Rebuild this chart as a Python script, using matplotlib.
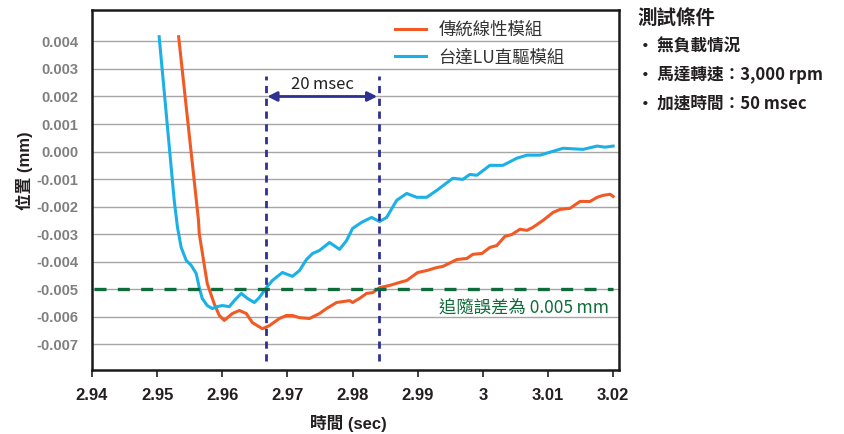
# Position vs time, conventional linear module vs Delta LU direct drive

import matplotlib
matplotlib.use("Agg")
import matplotlib.pyplot as plt

plt.rcParams['font.family'] = ['Liberation Sans', 'Noto Sans CJK TC']

# 傳統線性模組
t_lin = [2.9533, 2.95635, 2.95646, 2.95769, 2.95877, 2.95954, 2.96031, 2.96154,
         2.96262, 2.96369, 2.96462, 2.96615, 2.96723, 2.96877, 2.96985, 2.97077,
         2.97185, 2.97338, 2.97492, 2.976, 2.97754, 2.97954, 2.98, 2.98108,
         2.98215, 2.98308, 2.98415, 2.98569, 2.98723, 2.98831, 2.99, 2.99138,
         2.99292, 2.99385, 2.996, 2.99754, 2.99846, 2.99985, 3.00108, 3.00215,
         3.00338, 3.00446, 3.00569, 3.00677, 3.00769, 3.00923, 3.01077, 3.01185,
         3.01338, 3.01492, 3.01646, 3.01754, 3.01846, 3.01954, 3.02]
y_lin = [0.00417, -0.0025, -0.00297, -0.00479, -0.00553, -0.00595, -0.00613, -0.00588,
         -0.00577, -0.00588, -0.00621, -0.00643, -0.00632, -0.00606, -0.00595, -0.00595,
         -0.00603, -0.00606, -0.00588, -0.0057, -0.00548, -0.00541, -0.00548, -0.00533,
         -0.00515, -0.00512, -0.00494, -0.00486, -0.00475, -0.00468, -0.00439, -0.00432,
         -0.00421, -0.00417, -0.00392, -0.00388, -0.00373, -0.0037, -0.00348, -0.00341,
         -0.00308, -0.00301, -0.00282, -0.00286, -0.00275, -0.0025, -0.00221, -0.0021,
         -0.00206, -0.00181, -0.00181, -0.00166, -0.00159, -0.00155, -0.00163]

# 台達LU直驅模組
t_lu = [2.95031, 2.95262, 2.95312, 2.95369, 2.95446, 2.95523, 2.956, 2.95646,
        2.95692, 2.95769, 2.95846, 2.95923, 2.96, 2.96108, 2.96185, 2.96292,
        2.96385, 2.96492, 2.96569, 2.96677, 2.96769, 2.96923, 2.97077, 2.97185,
        2.97292, 2.97385, 2.97492, 2.97646, 2.978, 2.97908, 2.98, 2.98138,
        2.98292, 2.98415, 2.98523, 2.98677, 2.98831, 2.98985, 2.99138, 2.99292,
        2.99538, 2.99692, 2.998, 2.99908, 3.00108, 3.00308, 3.00523, 3.00677,
        3.00877, 3.01077, 3.01231, 3.01538, 3.01754, 3.01877, 3.02]
y_lu = [0.00417, -0.00177, -0.00275, -0.00348, -0.00395, -0.00413, -0.00443, -0.00493,
        -0.00533, -0.00559, -0.0057, -0.00563, -0.00559, -0.00563, -0.00541, -0.00515,
        -0.00533, -0.00548, -0.0053, -0.00494, -0.00468, -0.00439, -0.00453, -0.00432,
        -0.00392, -0.0037, -0.00359, -0.0033, -0.00355, -0.00323, -0.00279, -0.00257,
        -0.00239, -0.00254, -0.00239, -0.00177, -0.00152, -0.00166, -0.00166, -0.00141,
        -0.00097, -0.00101, -0.00083, -0.00086, -0.0005, -0.0005, -0.00024, -0.00013,
        -0.00013, 0.00001, 0.00012, 0.00008, 0.0002, 0.00016, 0.0002]

xticks = [2.94, 2.95, 2.96, 2.97, 2.98, 2.99, 3.0, 3.01, 3.02]
xticklabels = ['2.94', '2.95', '2.96', '2.97', '2.98', '2.99', '3', '3.01', '3.02']
yticks = [0.004, 0.003, 0.002, 0.001, 0.0, -0.001, -0.002, -0.003, -0.004, -0.005, -0.006, -0.007]

t_start, t_end = 2.9667, 2.984      # 20 msec window
err_limit = -0.005
conditions = ['無負載情況', '馬達轉速：3,000 rpm', '加速時間：50 msec']

ORANGE = '#f15a24'
BLUE = '#1bb1e7'
NAVY = '#2e3192'
GREEN = '#0f6b3a'

fig = plt.figure(figsize=(8.44, 4.34), dpi=100)
ax = fig.add_axes([92/844, 64/434, 527/844, 360/434])

for y in yticks:
    ax.axhline(y, color='#a6a6a6', lw=1.0, zorder=0)

ax.plot(t_lin, y_lin, color=ORANGE, lw=2.2, label='傳統線性模組', zorder=3)
ax.plot(t_lu, y_lu, color=BLUE, lw=2.2, label='台達LU直驅模組', zorder=3)

ax.plot([2.9403, 3.02], [err_limit, err_limit], color=GREEN, lw=2.4,
        dashes=(3.6, 3.4), zorder=4)
for t in (t_start, t_end):
    ax.plot([t, t], [-0.00759, 0.00274], color=NAVY, lw=2.0,
            dashes=(2.6, 2.0), zorder=4)
ax.annotate('', xy=(t_start, 0.002), xytext=(t_end, 0.002),
            arrowprops=dict(arrowstyle='<|-|>', color=NAVY, lw=2.0,
                            mutation_scale=14, shrinkA=1, shrinkB=1), zorder=5)
ax.text((t_start + t_end) / 2, 0.00245, '20\u2009msec', ha='center', va='center',
        fontsize=12, color='#222222', family=['Noto Sans CJK TC', 'DejaVu Sans'])
ax.text(3.0193, -0.00569, '追隨誤差為 0.005\u2009mm', ha='right', va='center',
        fontsize=12.5, color=GREEN, family=['Noto Sans CJK TC', 'DejaVu Sans'])

ax.set_xlim(2.94, 3.0209)
ax.set_ylim(-0.00793, 0.00514)
ax.set_xticks(xticks)
ax.set_xticklabels(xticklabels, fontsize=12, fontweight='bold', color='#231f20')
ax.set_yticks(yticks)
ax.set_yticklabels(['%.3f' % v for v in yticks], fontsize=10.5,
                   fontweight='bold', color='#7f7f7f')
ax.tick_params(axis='y', length=0, pad=10)
ax.tick_params(axis='x', length=5, width=1.2, color='#231f20', pad=8)
for s in ax.spines.values():
    s.set_linewidth(1.8)
    s.set_color('#1a1a1a')

ax.set_xlabel('時間 (sec)', fontsize=12, fontweight='bold', color='#231f20')
ax.xaxis.set_label_coords((348 - 92) / 527, -0.125)
ax.set_ylabel('位置 (mm)', fontsize=12, fontweight='bold', color='#231f20')
ax.yaxis.set_label_coords(-0.112, 0.555)

leg = ax.legend(loc='upper left', bbox_to_anchor=(395/844, 1 - 21/434),
                bbox_transform=fig.transFigure, frameon=False,
                handlelength=1.8, handletextpad=0.7, labelspacing=0.55,
                borderpad=0, borderaxespad=0,
                prop={'family': ['Noto Sans CJK TC'], 'size': 12.5})
for txt in leg.get_texts():
    txt.set_color('#333333')

fig.text(637/844, 1 - 18/434, '測試條件', fontsize=14, fontweight='bold',
         color='#231f20', va='center', family=['Noto Sans CJK TC', 'DejaVu Sans'])
for i, c in enumerate(conditions):
    fig.text(637/844, 1 - (46 + 29 * i)/434, '\u2022\u2009' + c, fontsize=12,
             fontweight='bold', color='#231f20', va='center',
             family=['Noto Sans CJK TC', 'DejaVu Sans'])

fig.savefig('out.png', dpi=100)
